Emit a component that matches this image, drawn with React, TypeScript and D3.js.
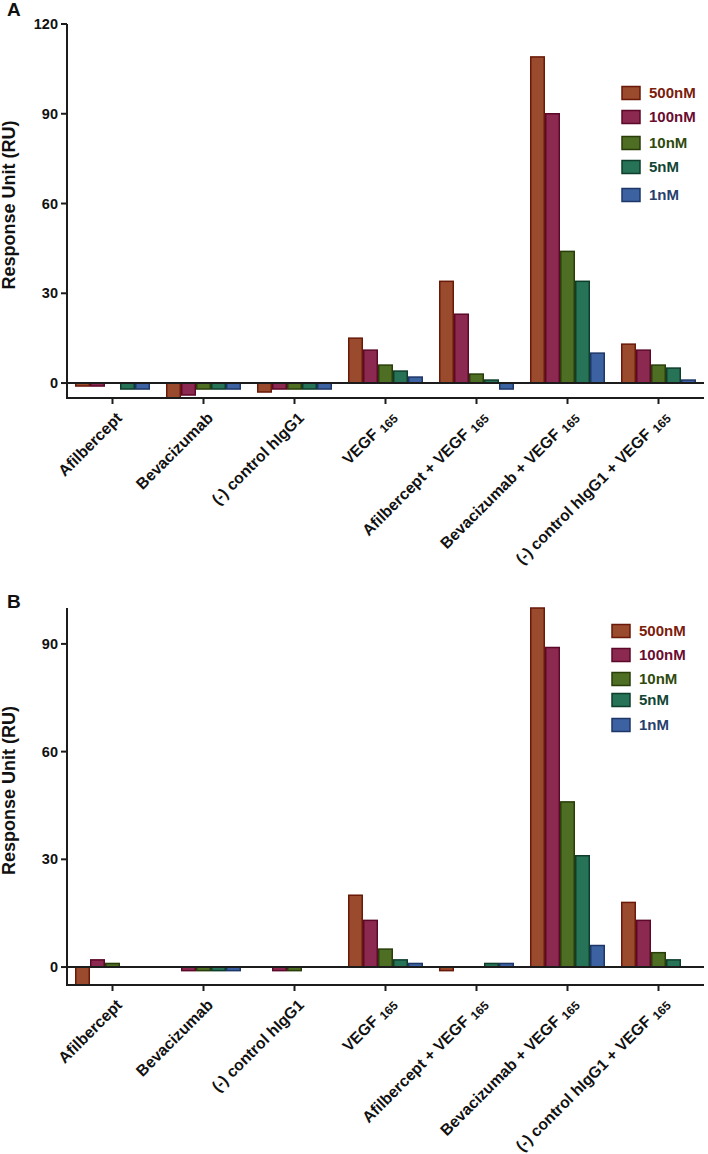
import React from "react";
import * as d3 from "d3";

const categories = [
  "Afilbercept",
  "Bevacizumab",
  "(-) control hIgG1",
  "VEGF",
  "Afilbercept + VEGF",
  "Bevacizumab + VEGF",
  "(-) control hIgG1 + VEGF",
];
const subscripts = ["", "", "", "165", "165", "165", "165"];
const seriesNames = ["500nM", "100nM", "10nM", "5nM", "1nM"];
const seriesFill = ["#9a4a2d", "#8c2950", "#4e6e23", "#267358", "#3d62a1"];
const seriesStroke = ["#6a1908", "#5c0828", "#283d0a", "#0e3e2b", "#1d3668"];
const legendText = ["#7a200c", "#6a0c30", "#2f4a0e", "#134535", "#28406e"];

// Panel A values (rows: categories, cols: 500, 100, 10, 5, 1 nM)
const valuesA = [
  [-1, -1, 0, -2, -2],
  [-5, -4, -2, -2, -2],
  [-3, -2, -2, -2, -2],
  [15, 11, 6, 4, 2],
  [34, 23, 3, 1, -2],
  [109, 90, 44, 34, 10],
  [13, 11, 6, 5, 1],
];
// Panel B values
const valuesB = [
  [-5, 2, 1, 0, 0],
  [0, -1, -1, -1, -1],
  [0, -1, -1, 0, 0],
  [20, 13, 5, 2, 1],
  [-1, 0, 0, 1, 1],
  [100, 89, 46, 31, 6],
  [18, 13, 4, 2, 0],
];
const ticksA = [0, 30, 60, 90, 120];
const ticksB = [0, 30, 60, 90];

const FONT = "'Liberation Sans', Arial, Helvetica, sans-serif";
const AX = "#1c1c1c";

type PanelProps = {
  letter: string;
  values: number[][];
  yDomain: [number, number];
  yRange: [number, number];
  ticks: number[];
  legendX: number;
  legendY: number[];
  letterY: number;
};

function Panel({ letter, values, yDomain, yRange, ticks, legendX, legendY, letterY }: PanelProps) {
  const left = 67;
  const right = 704;
  const x = d3
    .scaleBand<string>()
    .domain(categories)
    .range([left, right])
    .paddingInner(16 / 91)
    .paddingOuter(8 / 91);
  const xs = d3
    .scaleBand<string>()
    .domain(seriesNames)
    .range([0, x.bandwidth()]);
  const y = d3.scaleLinear().domain(yDomain).range(yRange);
  const y0 = y(0);
  const yb = y(yDomain[0]);
  const yt = y(yDomain[1]);
  const titleY = (yt + yb) / 2 - 6;

  return (
    <g>
      <text x={7} y={letterY} fontFamily={FONT} fontWeight="bold" fontSize={19} fill="#111">
        {letter}
      </text>
      {/* bars */}
      {values.map((row, ci) =>
        row.map((v, si) => {
          if (v === 0) return null;
          const bx = (x(categories[ci]) as number) + (xs(seriesNames[si]) as number);
          const top = Math.min(y(v), y0);
          const h = Math.abs(y(v) - y0);
          return (
            <rect
              key={`${ci}-${si}`}
              x={bx + 0.75}
              y={top}
              width={xs.bandwidth() - 1.5}
              height={h}
              fill={seriesFill[si]}
              stroke={seriesStroke[si]}
              strokeWidth={1.5}
            />
          );
        })
      )}
      {/* zero line */}
      <line x1={left} x2={right} y1={y0} y2={y0} stroke={AX} strokeWidth={2} />
      {/* y axis */}
      <line x1={left} x2={left} y1={yt} y2={yb + 1} stroke={AX} strokeWidth={2} />
      {ticks.map((t) => (
        <g key={t}>
          <line x1={left - 6} x2={left} y1={y(t)} y2={y(t)} stroke={AX} strokeWidth={2} />
          <text
            x={left - 9}
            y={y(t)}
            dy="0.35em"
            textAnchor="end"
            fontFamily={FONT}
            fontWeight="bold"
            fontSize={14.5}
            fill="#111"
          >
            {t}
          </text>
        </g>
      ))}
      <text
        transform={`translate(15,${titleY}) rotate(-90)`}
        textAnchor="middle"
        fontFamily={FONT}
        fontWeight="bold"
        fontSize={18}
        fill="#111"
      >
        Response Unit (RU)
      </text>
      {/* x axis */}
      <line x1={left - 1} x2={right} y1={yb} y2={yb} stroke={AX} strokeWidth={2} />
      {categories.map((c, i) => {
        const cx = (x(c) as number) + x.bandwidth() / 2;
        const hasSub = !!subscripts[i];
        return (
          <g key={c}>
            <line x1={cx} x2={cx} y1={yb} y2={yb + 6} stroke={AX} strokeWidth={2} />
            <text
              transform={`translate(${cx + (hasSub ? 11.5 : 10.5)},${yb + (hasSub ? 19.5 : 21)}) rotate(-45)`}
              textAnchor="end"
              fontFamily={FONT}
              fontWeight="bold"
              fontSize={15.8}
              fill="#111"
            >
              {c}
              {hasSub ? (
                <tspan fontSize={12} dx={5} dy={2.5}>
                  {subscripts[i]}
                </tspan>
              ) : null}
            </text>
          </g>
        );
      })}
      {/* legend */}
      {seriesNames.map((s, i) => (
        <g key={s}>
          <rect
            x={legendX}
            y={legendY[i] - 6.5}
            width={18}
            height={13}
            fill={seriesFill[i]}
            stroke={seriesStroke[i]}
            strokeWidth={1.5}
          />
          <text
            x={legendX + 27}
            y={legendY[i]}
            dy="0.36em"
            fontFamily={FONT}
            fontWeight="bold"
            fontSize={15}
            fill={legendText[i]}
          >
            {s}
          </text>
        </g>
      ))}
    </g>
  );
}

export default function App() {
  return (
    <svg
      width={708}
      height={1154}
      style={{ position: "absolute", left: 0, top: 0, background: "#fff" }}
    >
      <rect width={708} height={1154} fill="#fff" />
      <Panel
        letter="A"
        values={valuesA}
        yDomain={[-5, 120]}
        yRange={[398, 24]}
        ticks={ticksA}
        legendX={622}
        legendY={[93, 117, 143, 167, 195]}
        letterY={16}
      />
      <Panel
        letter="B"
        values={valuesB}
        yDomain={[-5, 100]}
        yRange={[985, 608]}
        ticks={ticksB}
        legendX={612}
        legendY={[631, 655, 679, 700, 725]}
        letterY={608}
      />
    </svg>
  );
}
